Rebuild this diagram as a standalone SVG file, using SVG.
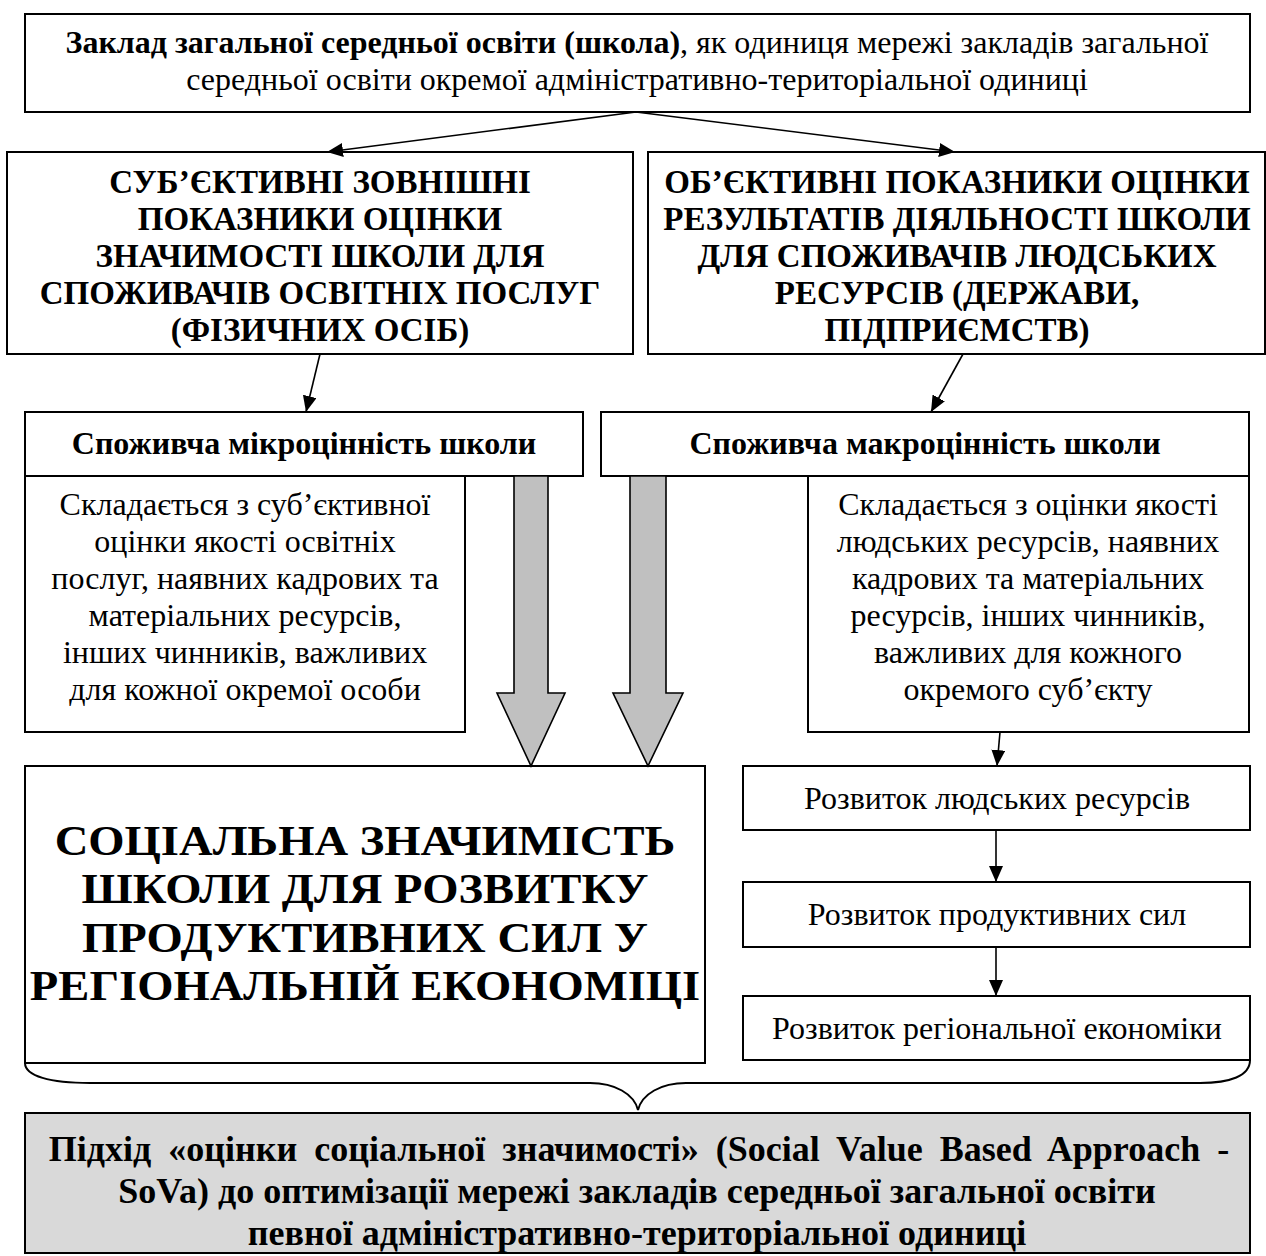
<svg xmlns="http://www.w3.org/2000/svg" width="1266" height="1256" viewBox="0 0 1266 1256">
  <style>
    .box { fill: #ffffff; stroke: #000000; stroke-width: 2; }
    .gray { fill: #d9d9d9; stroke: #000000; stroke-width: 2; }
    .fat { fill: #c0c0c0; stroke: #000000; stroke-width: 1.6; }
    .link { fill: none; stroke: #000000; stroke-width: 1.6; marker-end: url(#head); }
    .brace { fill: none; stroke: #000000; stroke-width: 2; }
    text { font-family: "Liberation Serif", "Times New Roman", serif; fill: #000000; text-anchor: middle; }
    .t32 { font-size: 32px; }
    .b32 { font-size: 32px; font-weight: bold; }
    .b33 { font-size: 33px; font-weight: bold; }
    .b36 { font-size: 36px; font-weight: bold; }
    .b42 { font-size: 42px; font-weight: bold; }
  </style>
  <defs>
    <marker id="head" markerUnits="userSpaceOnUse" markerWidth="18" markerHeight="16" refX="16" refY="7" orient="auto">
      <path d="M0,0 L16,7 L0,14 Z" fill="#000000"/>
    </marker>
  </defs>

  <!-- top: school as a unit of the network -->
  <g id="school">
    <rect class="box" x="25" y="14" width="1225" height="98" stroke-width="2.5"/>
    <text class="t32" x="637" y="53"><tspan font-weight="bold">Заклад загальної середньої освіти (школа)</tspan>, як одиниця мережі закладів загальної</text>
    <text class="t32" x="637" y="90">середньої освіти окремої адміністративно-територіальної одиниці</text>
  </g>

  <!-- subjective indicators -->
  <g id="subjective">
    <rect class="box" x="7" y="152" width="626" height="202"/>
    <text class="b33" x="320" y="193">СУБ’ЄКТИВНІ ЗОВНІШНІ</text>
    <text class="b33" x="320" y="230">ПОКАЗНИКИ ОЦІНКИ</text>
    <text class="b33" x="320" y="267">ЗНАЧИМОСТІ ШКОЛИ ДЛЯ</text>
    <text class="b33" x="320" y="304">СПОЖИВАЧІВ ОСВІТНІХ ПОСЛУГ</text>
    <text class="b33" x="320" y="341">(ФІЗИЧНИХ ОСІБ)</text>
  </g>

  <!-- objective indicators -->
  <g id="objective">
    <rect class="box" x="648" y="152" width="617" height="202"/>
    <text class="b33" x="957" y="193">ОБ’ЄКТИВНІ ПОКАЗНИКИ ОЦІНКИ</text>
    <text class="b33" x="957" y="230">РЕЗУЛЬТАТІВ ДІЯЛЬНОСТІ ШКОЛИ</text>
    <text class="b33" x="957" y="267">ДЛЯ СПОЖИВАЧІВ ЛЮДСЬКИХ</text>
    <text class="b33" x="957" y="304">РЕСУРСІВ (ДЕРЖАВИ,</text>
    <text class="b33" x="957" y="341">ПІДПРИЄМСТВ)</text>
  </g>

  <!-- consumer micro-value -->
  <g id="micro">
    <rect class="box" x="25" y="412" width="558" height="64"/>
    <text class="b32" x="304" y="454">Споживча мікроцінність школи</text>
    <rect class="box" x="25" y="476" width="440" height="256"/>
    <text class="t32" x="245" y="515">Складається з суб’єктивної</text>
    <text class="t32" x="245" y="552">оцінки якості освітніх</text>
    <text class="t32" x="245" y="589">послуг, наявних кадрових та</text>
    <text class="t32" x="245" y="626">матеріальних ресурсів,</text>
    <text class="t32" x="245" y="663">інших чинників, важливих</text>
    <text class="t32" x="245" y="700">для кожної окремої особи</text>
  </g>

  <!-- consumer macro-value -->
  <g id="macro">
    <rect class="box" x="601" y="412" width="648" height="64"/>
    <text class="b32" x="925" y="454">Споживча макроцінність школи</text>
    <rect class="box" x="808" y="476" width="441" height="256"/>
    <text class="t32" x="1028" y="515">Складається з оцінки якості</text>
    <text class="t32" x="1028" y="552">людських ресурсів, наявних</text>
    <text class="t32" x="1028" y="589">кадрових та матеріальних</text>
    <text class="t32" x="1028" y="626">ресурсів, інших чинників,</text>
    <text class="t32" x="1028" y="663">важливих для кожного</text>
    <text class="t32" x="1028" y="700">окремого суб’єкту</text>
  </g>

  <!-- social significance of the school (slightly widened lettering) -->
  <g id="significance">
    <rect class="box" x="25" y="766" width="680" height="297"/>
    <text class="b42" transform="translate(365,855) scale(1.11,1)">СОЦІАЛЬНА ЗНАЧИМІСТЬ</text>
    <text class="b42" transform="translate(365,903) scale(1.11,1)">ШКОЛИ ДЛЯ РОЗВИТКУ</text>
    <text class="b42" transform="translate(365,952) scale(1.11,1)">ПРОДУКТИВНИХ СИЛ У</text>
    <text class="b42" transform="translate(365,1000) scale(1.11,1)">РЕГІОНАЛЬНІЙ ЕКОНОМІЦІ</text>
  </g>

  <!-- development chain -->
  <g id="human-resources">
    <rect class="box" x="743" y="766" width="507" height="64"/>
    <text class="t32" x="997" y="809">Розвиток людських ресурсів</text>
  </g>
  <g id="productive-forces">
    <rect class="box" x="743" y="882" width="507" height="65"/>
    <text class="t32" x="997" y="925">Розвиток продуктивних сил</text>
  </g>
  <g id="regional-economy">
    <rect class="box" x="743" y="996" width="507" height="64"/>
    <text class="t32" x="997" y="1039">Розвиток регіональної економіки</text>
  </g>

  <!-- SoVa approach -->
  <g id="sova">
    <rect class="gray" x="25" y="1113" width="1225" height="140"/>
    <text class="b36" x="639" y="1161" word-spacing="8">Підхід «оцінки соціальної значимості» (Social Value Based Approach -</text>
    <text class="b36" x="637" y="1203">SoVa) до оптимізації мережі закладів середньої загальної освіти</text>
    <text class="b36" x="637" y="1245">певної адміністративно-територіальної одиниці</text>
  </g>

  <g id="connectors">
    <line class="link" x1="636" y1="112" x2="327" y2="152"/>
    <line class="link" x1="636" y1="112" x2="955" y2="152"/>
    <line class="link" x1="320" y1="354" x2="306" y2="412"/>
    <line class="link" x1="963" y1="354" x2="931" y2="412"/>
    <line class="link" x1="1000" y1="732" x2="997" y2="766"/>
    <line class="link" x1="996" y1="830" x2="996" y2="882"/>
    <line class="link" x1="996" y1="947" x2="996" y2="996"/>
    <!-- broad grey arrows into the significance box -->
    <path class="fat" d="M514,476 L548,476 L548,693 L565,693 L531,766 L497,693 L514,693 Z"/>
    <path class="fat" d="M630,476 L666,476 L666,693 L683,693 L648,766 L613,693 L630,693 Z"/>
    <!-- brace gathering everything into the approach -->
    <path class="brace" d="M25,1063 C25,1076 50,1083 90,1083 L590,1083 C615,1083 634,1094 638,1110 C642,1094 661,1083 686,1083 L1200,1083 C1230,1083 1250,1076 1250,1060"/>
  </g>
</svg>
